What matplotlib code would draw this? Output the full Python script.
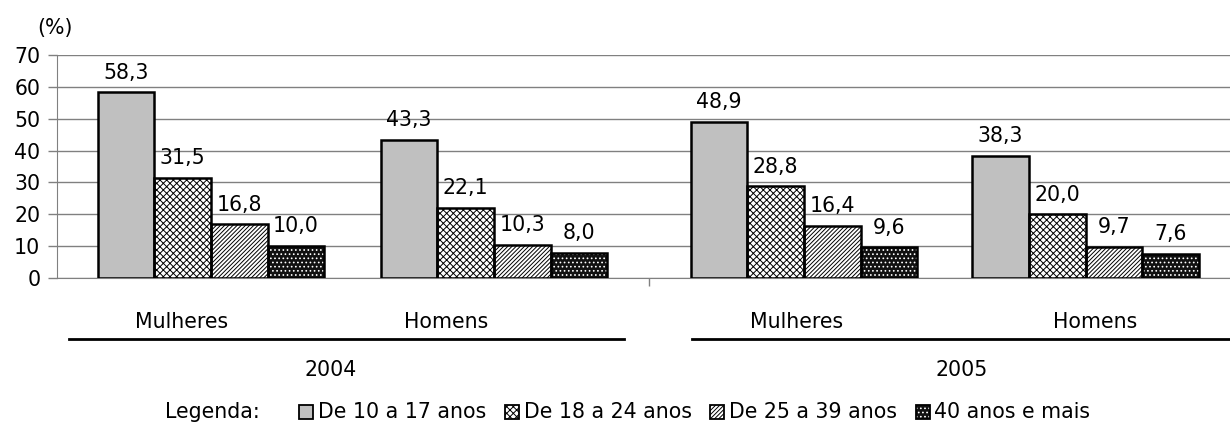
import matplotlib
matplotlib.use("Agg")
import matplotlib.pyplot as plt
import numpy as np
from matplotlib.patches import Rectangle
from matplotlib.lines import Line2D
from matplotlib.transforms import blended_transform_factory

plt.rcParams['font.family'] = ['DejaVu Sans']
plt.rcParams['hatch.linewidth'] = 0.7

# data
groups = ["Mulheres", "Homens", "Mulheres", "Homens"]
years = ["2004", "2005"]
age_labels = ["De 10 a 17 anos", "De 18 a 24 anos", "De 25 a 39 anos", "40 anos e mais"]
v_10_17 = [58.3, 43.3, 48.9, 38.3]
v_18_24 = [31.5, 22.1, 28.8, 20.0]
v_25_39 = [16.8, 10.3, 16.4, 9.7]
v_40 = [10.0, 8.0, 9.6, 7.6]
series = [v_10_17, v_18_24, v_25_39, v_40]

# styles per series: face, hatch colour, hatch
styles = [("#c0c0c0", "black", ""),
          ("white", "black", "xxxxx"),
          ("white", "black", "////////"),
          ("#111111", "white", "....")]

FS = 14.8
W, H = 1230, 425
fig = plt.figure(figsize=(W / 100, H / 100), dpi=100)
ax = fig.add_axes([57 / W, (H - 278) / H, 1 - 57 / W, (278 - 55) / H])

# group centres (gap between the two years is a bit wider)
pos = np.array([0, 1, 2, 3]) + np.array([0, 0, 0.095, 0.09])
bw = 0.2
offsets = [-1.5 * bw, -0.5 * bw, 0.5 * bw, 1.5 * bw]

for s, vals in enumerate(series):
    face, hcol, hatch = styles[s]
    xs = pos + offsets[s]
    ax.bar(xs, vals, bw, color=face, edgecolor=hcol, hatch=hatch, linewidth=0, zorder=3)
    ax.bar(xs, vals, bw, facecolor="none", edgecolor="black", linewidth=1.8, zorder=4)
    for x, v in zip(xs, vals):
        ax.annotate(f"{v:.1f}".replace(".", ","), xy=(x, v), xytext=(0, 7),
                    textcoords="offset points", ha="center", va="bottom", fontsize=FS)

ax.set_xlim(-0.544, 3.60)
ax.set_ylim(0, 70)
ax.set_yticks(range(0, 71, 10))
ax.yaxis.grid(True, color="#808080", linewidth=1, zorder=0)
ax.set_axisbelow(True)
ax.tick_params(axis="y", labelsize=FS, length=6.5, width=1, color="#808080", pad=5.5)
ax.set_xticks([(pos[1] + pos[2]) / 2])
ax.set_xticklabels([""])
ax.tick_params(axis="x", length=6, width=1, color="#808080")
for side in ["top", "right"]:
    ax.spines[side].set_visible(False)
ax.spines["left"].set_color("#808080")
ax.spines["bottom"].set_color("#808080")

# percent label
fig.text(37 / W, 1 - 28 / H, "(%)", fontsize=FS, ha="left", va="center")

# category labels
tr = blended_transform_factory(ax.transData, fig.transFigure)
label_x = [-0.1025, 0.83, 2.067, 3.124]
for x, g in zip(label_x, groups):
    ax.text(x, 1 - 322 / H, g, fontsize=FS, ha="center", va="center", transform=tr)

# year separator lines and year labels
for x0, x1 in [(69, 624), (692, 1230)]:
    fig.add_artist(Line2D([x0 / W, x1 / W], [1 - 339 / H] * 2, color="black", linewidth=2,
                          transform=fig.transFigure))
for xc, yr in zip([331, 962], years):
    fig.text(xc / W, 1 - 370 / H, yr, fontsize=FS, ha="center", va="center")

# legend
fig.text(165 / W, 1 - 412 / H, "Legenda:", fontsize=FS, ha="left", va="center")
for i, lab in enumerate(age_labels):
    face, hcol, hatch = styles[i]
    x0 = 299 + 205.5 * i
    fig.add_artist(Rectangle((x0 / W, (H - 419) / H), 14 / W, 14 / H, transform=fig.transFigure,
                             facecolor=face, edgecolor=hcol, hatch=hatch, linewidth=0))
    fig.add_artist(Rectangle((x0 / W, (H - 419) / H), 14 / W, 14 / H, transform=fig.transFigure,
                             facecolor="none", edgecolor="black", linewidth=1.3))
    fig.text((x0 + 19) / W, 1 - 412 / H, lab, fontsize=FS, ha="left", va="center")

fig.savefig("out.png", dpi=100)
